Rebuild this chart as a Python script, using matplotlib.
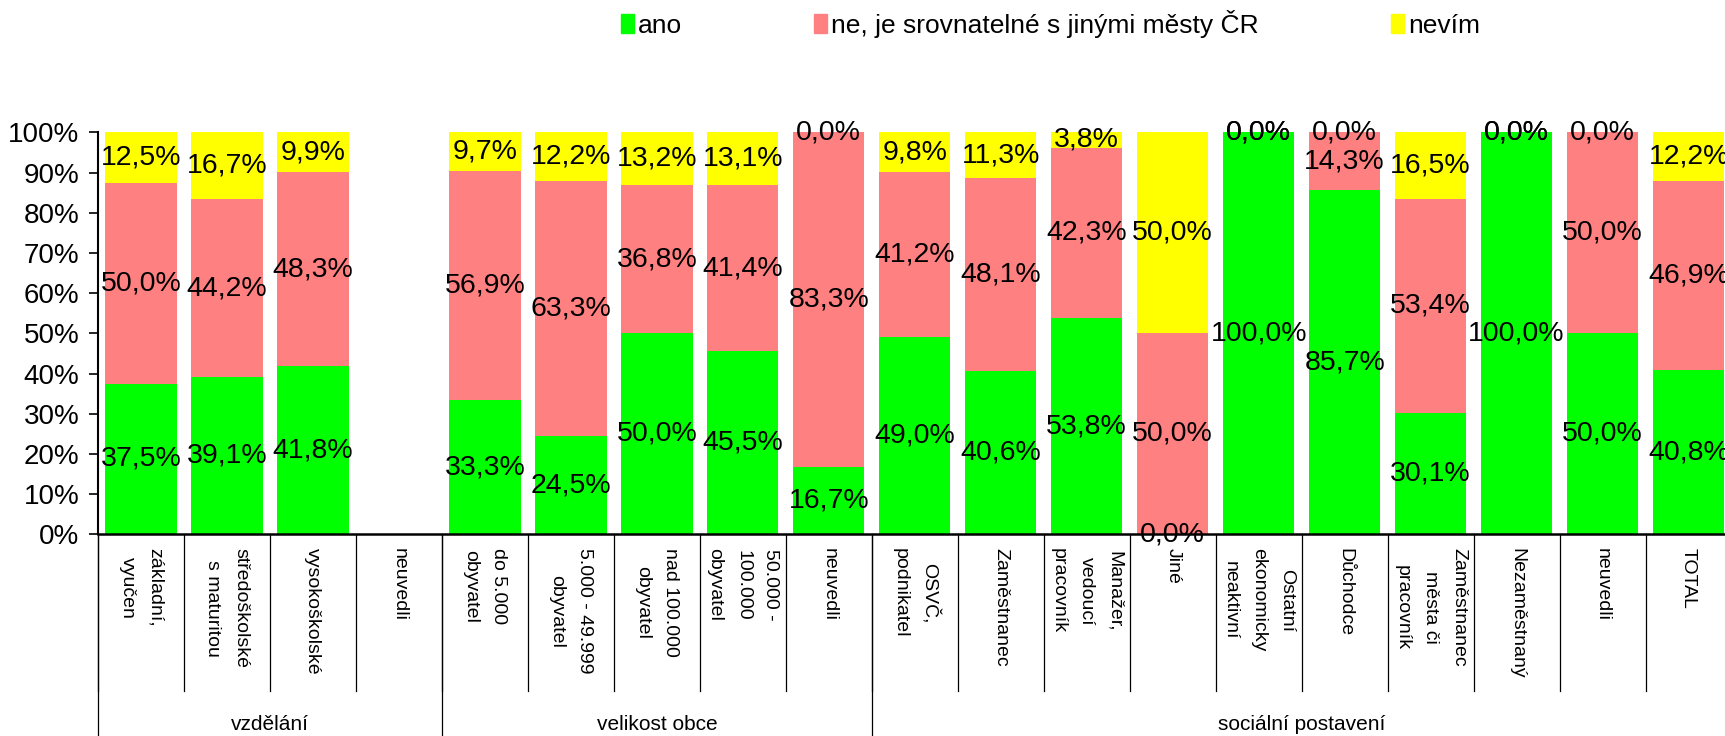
import numpy as np
import matplotlib
matplotlib.use("Agg")
import matplotlib.pyplot as plt
from matplotlib.patches import Patch

plt.rcParams['font.family'] = ['Liberation Sans', 'DejaVu Sans']

categories = ["základní,\nvyučen", "středoškolské\ns maturitou", "vysokoškolské", "neuvedli",
              "do 5.000\nobyvatel", "5.000 - 49.999\nobyvatel", "nad 100.000\nobyvatel",
              "50.000 -\n100.000\nobyvatel", "neuvedli",
              "OSVČ,\npodnikatel", "Zaměstnanec", "Manažer,\nvedoucí\npracovník", "Jiné",
              "Ostatní\nekonomicky\nneaktivní", "Důchodce", "Zaměstnanec\nměsta či\npracovník",
              "Nezaměstnaný", "neuvedli", "TOTAL"]
groups = ["vzdělání", "velikost obce", "sociální postavení"]
group_sizes = [4, 5, 10]

ano = [37.5, 39.1, 41.8, np.nan, 33.3, 24.5, 50.0, 45.5, 16.7,
       49.0, 40.6, 53.8, 0.0, 100.0, 85.7, 30.1, 100.0, 50.0, 40.8]
ne = [50.0, 44.2, 48.3, np.nan, 56.9, 63.3, 36.8, 41.4, 83.3,
      41.2, 48.1, 42.3, 50.0, 0.0, 14.3, 53.4, 0.0, 50.0, 46.9]
nevim = [12.5, 16.7, 9.9, np.nan, 9.7, 12.2, 13.2, 13.1, 0.0,
         9.8, 11.3, 3.8, 50.0, 0.0, 0.0, 16.5, 0.0, 0.0, 12.2]

series = [("ano", ano, "#00ff00"),
          ("ne, je srovnatelné s jinými městy ČR", ne, "#ff8080"),
          ("nevím", nevim, "#ffff00")]

fig = plt.figure(figsize=(17.25, 7.36), dpi=100)
ax = fig.add_axes([0.0568, 0.274, 0.947, 0.5462])

x = np.arange(len(categories))
vals = np.array([s[1] for s in series], dtype=float)
total = np.nansum(vals, axis=0)
total[total == 0] = 1
share = vals / total * 100

bottom = np.zeros(len(categories))
for (name, v, col), h in zip(series, share):
    hh = np.nan_to_num(h)
    ax.bar(x, hh, 0.83, bottom=bottom, color=col, label=name)
    for i in range(len(x)):
        if np.isnan(v[i]):
            continue
        ax.text(x[i], bottom[i] + hh[i] / 2, f"{v[i]:.1f}%".replace(".", ","),
                ha="center", va="center", fontsize=20.5, clip_on=False)
    bottom += hh

ax.set_xlim(-0.5, len(categories) - 0.5)
ax.set_ylim(0, 100)
ax.set_yticks(np.arange(0, 101, 10))
ax.set_yticklabels([f"{t}%" for t in range(0, 101, 10)])
ax.tick_params(axis="y", labelsize=20, length=6.5, width=1.2, pad=7)
ax.set_xticks([])
for s in ["top", "right"]:
    ax.spines[s].set_visible(False)
ax.spines["left"].set_linewidth(1.5)
ax.spines["bottom"].set_linewidth(1.8)

trans = ax.get_xaxis_transform()
for k in range(len(categories)):
    ax.plot([k - 0.5, k - 0.5], [0, -0.39], color="black", lw=0.9, transform=trans, clip_on=False)
    ax.text(x[k], -0.035, categories[k], rotation=270, ha="center", va="top",
            multialignment="center", linespacing=1.85, fontsize=14, transform=trans)

start = -0.5
for g, n in zip(groups, group_sizes):
    ax.plot([start, start], [0, -0.6], color="black", lw=0.9, transform=trans, clip_on=False)
    ax.text(start + n / 2, -0.474, g, ha="center", va="center", fontsize=15, transform=trans)
    start += n

handles = [Patch(color=c) for _, _, c in series]
fig.legend(handles, [s[0] for s in series], loc="center", bbox_to_anchor=(0.609, 0.968),
           ncol=3, frameon=False, fontsize=19, handlelength=0.5, handleheight=0.7,
           handletextpad=0.15, columnspacing=5.0, borderpad=0)

fig.savefig("out.png", dpi=100)
